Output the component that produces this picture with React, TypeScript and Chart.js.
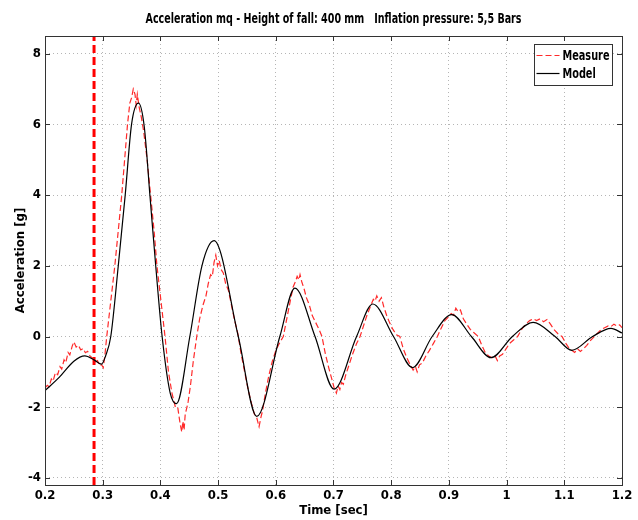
import React, { useEffect, useRef } from "react";
import { Chart, registerables } from "chart.js";

Chart.register(...registerables);

const TITLE = "Acceleration mq - Height of fall: 400 mm   Inflation pressure: 5,5 Bars";
const X_TITLE = "Time [sec]";
const Y_TITLE = "Acceleration [g]";
const SERIES_NAMES = ["Measure", "Model"];

const xTicks = [0.2, 0.3, 0.4, 0.5, 0.6, 0.7, 0.8, 0.9, 1, 1.1, 1.2];
const yTicks = [-4, -2, 0, 2, 4, 6, 8];
const xMin = 0.2;
const xMax = 1.2;
const yMin = -4.2;
const yMax = 8.5;
const impactTime = 0.285;

const modelT = [
  0.2, 0.225, 0.25, 0.269, 0.285, 0.298, 0.305, 0.314, 0.327, 0.339, 0.35, 0.362,
  0.372, 0.382, 0.392, 0.403, 0.417, 0.428, 0.451, 0.472, 0.493, 0.535, 0.567,
  0.607, 0.633, 0.668, 0.701, 0.74, 0.768, 0.804, 0.837, 0.871, 0.905, 0.939,
  0.973, 1.01, 1.046, 1.084, 1.113, 1.149, 1.181, 1.2,
];
const modelV = [
  -1.53, -1.15, -0.7, -0.55, -0.66, -0.78, -0.55, 0.0, 2.0, 4.0, 6.0, 6.6,
  5.94, 3.96, 1.98, 0.0, -1.6, -1.9, 0.0, 2.0, 2.71, 0.0, -2.26,
  0.0, 1.37, 0.0, -1.49, 0.0, 0.92, 0.0, -0.88, 0.0, 0.62, 0.0,
  -0.6, 0.0, 0.4, 0.0, -0.39, 0.0, 0.23, 0.1,
];

const measureT = [
  0.2, 0.204, 0.207, 0.211, 0.214, 0.218, 0.222, 0.226, 0.229, 0.233, 0.236, 0.24,
  0.243, 0.247, 0.25, 0.254, 0.258, 0.262, 0.266, 0.27, 0.274, 0.278, 0.283, 0.287,
  0.291, 0.295, 0.298, 0.301, 0.304, 0.307, 0.314, 0.321, 0.327, 0.333, 0.338, 0.343,
  0.347, 0.35, 0.353, 0.356, 0.358, 0.36, 0.363, 0.367, 0.371, 0.377, 0.383, 0.389,
  0.394, 0.401, 0.408, 0.414, 0.42, 0.426, 0.43, 0.434, 0.437, 0.439, 0.441, 0.443,
  0.446, 0.448, 0.452, 0.457, 0.463, 0.468, 0.474, 0.479, 0.483, 0.487, 0.49, 0.493,
  0.496, 0.499, 0.502, 0.505, 0.509, 0.513, 0.518, 0.523, 0.528, 0.534, 0.54, 0.546,
  0.552, 0.558, 0.563, 0.567, 0.571, 0.574, 0.577, 0.582, 0.588, 0.594, 0.6, 0.606,
  0.613, 0.619, 0.625, 0.63, 0.634, 0.637, 0.64, 0.642, 0.645, 0.649, 0.653, 0.658,
  0.663, 0.669, 0.675, 0.68, 0.686, 0.692, 0.697, 0.701, 0.705, 0.708, 0.711, 0.714,
  0.717, 0.721, 0.727, 0.733, 0.74, 0.746, 0.752, 0.758, 0.764, 0.769, 0.772, 0.775,
  0.779, 0.783, 0.787, 0.792, 0.797, 0.803, 0.809, 0.815, 0.821, 0.827, 0.833, 0.838,
  0.842, 0.845, 0.849, 0.854, 0.86, 0.866, 0.873, 0.88, 0.887, 0.893, 0.899, 0.904,
  0.908, 0.912, 0.916, 0.92, 0.925, 0.931, 0.937, 0.944, 0.951, 0.957, 0.963, 0.969,
  0.975, 0.98, 0.984, 0.988, 0.993, 0.999, 1.005, 1.012, 1.019, 1.026, 1.033, 1.04,
  1.046, 1.052, 1.058, 1.064, 1.07, 1.076, 1.082, 1.089, 1.096, 1.103, 1.109, 1.114,
  1.118, 1.123, 1.128, 1.133, 1.139, 1.146, 1.152, 1.158, 1.164, 1.17, 1.176, 1.181,
  1.186, 1.191, 1.196, 1.2,
];
const measureV = [
  -1.45, -1.38, -1.42, -1.2, -1.26, -1.02, -1.08, -0.85, -0.92, -0.66, -0.74, -0.45,
  -0.52, -0.28, -0.15, -0.3, -0.25, -0.38, -0.34, -0.46, -0.42, -0.55, -0.62, -0.72,
  -0.68, -0.82, -0.8, -0.88, -0.5, 0.0, 1.0, 2.0, 3.0, 4.0, 5.0, 6.0,
  6.6, 6.75, 7.0, 6.85, 6.55, 6.85, 6.5, 6.2, 5.8, 5.0, 4.0, 3.0,
  2.0, 1.0, 0.0, -1.0, -1.6, -2.0, -2.0, -2.45, -2.7, -2.4, -2.65, -2.2,
  -2.0, -1.85, -1.4, -0.7, 0.0, 0.5, 0.9, 1.15, 1.5, 1.75, 1.7, 2.1,
  2.3, 2.0, 2.15, 1.9, 1.8, 1.5, 1.3, 0.9, 0.5, 0.1, -0.5, -1.0,
  -1.5, -1.9, -2.2, -2.3, -2.55, -2.3, -2.1, -1.6, -1.1, -0.7, -0.4, -0.2,
  0.0, 0.5, 1.0, 1.4, 1.55, 1.7, 1.6, 1.75, 1.55, 1.35, 1.1, 0.9,
  0.6, 0.4, 0.2, 0.0, -0.5, -0.9, -1.2, -1.45, -1.6, -1.4, -1.5, -1.3,
  -1.35, -1.1, -0.8, -0.5, -0.2, 0.0, 0.3, 0.6, 0.85, 1.05, 1.0, 1.15,
  1.0, 1.1, 0.85, 0.6, 0.4, 0.2, 0.05, 0.0, -0.35, -0.6, -0.8, -0.95,
  -0.85, -1.0, -0.8, -0.75, -0.55, -0.4, -0.2, 0.0, 0.25, 0.45, 0.55, 0.65,
  0.6, 0.8, 0.7, 0.75, 0.5, 0.35, 0.2, 0.1, 0.0, -0.25, -0.45, -0.55,
  -0.6, -0.55, -0.68, -0.55, -0.5, -0.35, -0.2, -0.1, 0.0, 0.2, 0.35, 0.45,
  0.5, 0.45, 0.5, 0.42, 0.48, 0.35, 0.2, 0.08, 0.0, -0.2, -0.35, -0.4,
  -0.45, -0.35, -0.42, -0.35, -0.25, -0.1, 0.0, 0.1, 0.2, 0.25, 0.3, 0.28,
  0.35, 0.3, 0.33, 0.25,
];

const FONT = "'Liberation Sans Narrow', 'DejaVu Sans Condensed', 'Arial Narrow', sans-serif";
const RED = "#ff2a2a";

function drawSqueezed(ctx: any, text: string, x: number, y: number, sx: number, align: string) {
  ctx.save();
  ctx.translate(x, y);
  ctx.scale(sx, 1);
  ctx.textAlign = align;
  ctx.textBaseline = "middle";
  ctx.fillText(text, 0, 0);
  ctx.restore();
}

const framePlugin = {
  id: "matlabFrame",
  afterDraw(chart: any) {
    const ctx = chart.ctx;
    const { left, right, top, bottom } = chart.chartArea;
    const xs = chart.scales.x;
    const ys = chart.scales.y;
    ctx.save();
    ctx.strokeStyle = "#333333";
    ctx.lineWidth = 1;
    ctx.setLineDash([]);
    ctx.strokeRect(Math.round(left) + 0.5, Math.round(top) + 0.5, Math.round(right - left), Math.round(bottom - top));
    const L = 5;
    ctx.beginPath();
    xTicks.forEach((v) => {
      const px = Math.round(xs.getPixelForValue(v)) + 0.5;
      ctx.moveTo(px, bottom);
      ctx.lineTo(px, bottom - L);
      ctx.moveTo(px, top);
      ctx.lineTo(px, top + L);
    });
    yTicks.forEach((v) => {
      const py = Math.round(ys.getPixelForValue(v)) + 0.5;
      ctx.moveTo(left, py);
      ctx.lineTo(left + L, py);
      ctx.moveTo(right, py);
      ctx.lineTo(right - L, py);
    });
    ctx.stroke();

    // title
    ctx.fillStyle = "#000000";
    ctx.font = "bold 14px " + FONT;
    const tw = ctx.measureText(TITLE).width;
    drawSqueezed(ctx, TITLE, (left + right) / 2, 19, 376 / tw, "center");

    // legend
    ctx.font = "bold 14px " + FONT;
    const items = [1, 0].map((i) => chart.data.datasets[i]);
    const mw = ctx.measureText(SERIES_NAMES[0]).width;
    const sx = 47 / mw;
    const textW = Math.max(...items.map((d: any) => ctx.measureText(d.label).width)) * sx;
    const sampleW = 23;
    const boxW = Math.round(2 + sampleW + 3 + textW + 3);
    const boxH = 41;
    const bx = Math.round(right - 10 - boxW) + 0.5;
    const by = Math.round(top + 8) + 0.5;
    ctx.fillStyle = "#ffffff";
    ctx.fillRect(bx, by, boxW, boxH);
    ctx.strokeStyle = "#333333";
    ctx.lineWidth = 1;
    ctx.strokeRect(bx, by, boxW, boxH);
    items.forEach((d: any, i: number) => {
      const cy = by + 11 + i * 18;
      ctx.save();
      ctx.strokeStyle = d.borderColor;
      ctx.lineWidth = d.borderWidth;
      ctx.setLineDash(d.borderDash || []);
      ctx.beginPath();
      ctx.moveTo(bx + 2, cy);
      ctx.lineTo(bx + 2 + sampleW, cy);
      ctx.stroke();
      ctx.restore();
      ctx.fillStyle = "#000000";
      drawSqueezed(ctx, d.label, bx + 2 + sampleW + 3, cy + 1, sx, "left");
    });
    ctx.restore();
  },
};

export default function App() {
  const ref = useRef<HTMLCanvasElement>(null);
  useEffect(() => {
    if (!ref.current) return;
    const chart = new Chart(ref.current, {
      type: "line",
      data: {
        datasets: [
          {
            label: SERIES_NAMES[1],
            data: modelT.map((t, i) => ({ x: t, y: modelV[i] })),
            borderColor: "#000000",
            borderWidth: 1.2,
            pointRadius: 0,
            cubicInterpolationMode: "monotone",
            order: 0,
          } as any,
          {
            label: SERIES_NAMES[0],
            data: measureT.map((t, i) => ({ x: t, y: measureV[i] })),
            borderColor: RED,
            borderWidth: 1.2,
            borderDash: [6, 3],
            pointRadius: 0,
            tension: 0,
            order: 1,
          } as any,
          {
            label: "impact",
            data: [
              { x: impactTime, y: yMin },
              { x: impactTime, y: yMax },
            ],
            borderColor: "#ff0000",
            borderWidth: 3,
            borderDash: [8, 4],
            pointRadius: 0,
            order: 2,
          } as any,
        ],
      },
      options: {
        animation: false,
        responsive: false,
        layout: { padding: { left: 0, right: 16, top: 36, bottom: 0 } },
        plugins: {
          legend: { display: false },
          tooltip: { enabled: false },
          title: { display: false },
        },
        scales: {
          x: {
            type: "linear",
            min: xMin,
            max: xMax,
            afterBuildTicks: (s: any) => {
              s.ticks = xTicks.map((v) => ({ value: v }));
            },
            afterFit: (s: any) => {
              s.height = 35;
            },
            ticks: {
              color: "#000000",
              font: { family: FONT, size: 13, weight: "bold" },
              padding: 3,
              maxRotation: 0,
              autoSkip: false,
              callback: (v: any) => String(v),
            },
            grid: { color: "#b5b5b5", lineWidth: 1, drawTicks: false },
            border: { display: false, dash: [1, 3] },
            title: {
              display: true,
              text: X_TITLE,
              color: "#000000",
              font: { family: FONT, size: 13, weight: "bold", lineHeight: 1.2 },
              padding: { top: 0, bottom: 2 },
            },
          },
          y: {
            type: "linear",
            min: yMin,
            max: yMax,
            afterBuildTicks: (s: any) => {
              s.ticks = yTicks.map((v) => ({ value: v }));
            },
            afterFit: (s: any) => {
              s.width = 45;
            },
            ticks: {
              color: "#000000",
              font: { family: FONT, size: 13, weight: "bold" },
              padding: 4,
              autoSkip: false,
              callback: (v: any) => String(v),
            },
            grid: { color: "#b5b5b5", lineWidth: 1, drawTicks: false },
            border: { display: false, dash: [1, 3] },
            title: {
              display: true,
              text: Y_TITLE,
              color: "#000000",
              font: { family: FONT, size: 13, weight: "bold", lineHeight: 1.2 },
              padding: { top: 13, bottom: 0 },
            },
          },
        },
      } as any,
      plugins: [framePlugin],
    });
    return () => chart.destroy();
  }, []);
  return (
    <div style={{ position: "absolute", left: 0, top: 0, width: 638, height: 520, background: "#ffffff" }}>
      <canvas ref={ref} width={638} height={520} />
    </div>
  );
}
